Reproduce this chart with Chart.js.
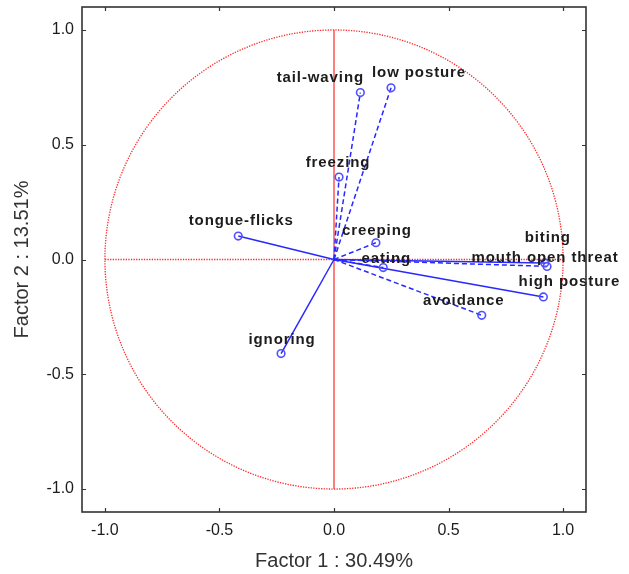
<!DOCTYPE html>
<html>
<head>
<meta charset="utf-8">
<script src="https://cdn.jsdelivr.net/npm/chart.js@4.4.0/dist/chart.umd.min.js"></script>
<style>
  html, body { margin: 0; padding: 0; background: #ffffff; }
  #wrap { width: 629px; height: 574px; }
</style>
</head>
<body>
<div id="wrap"><canvas id="c" width="629" height="574"></canvas></div>
<script>
// Variable loadings on the first two factors
const variables = ['tail-waving', 'low posture', 'freezing', 'tongue-flicks', 'creeping',
                   'eating', 'biting', 'mouth open threat', 'high posture', 'avoidance', 'ignoring'];
const factor1 = [0.115, 0.249, 0.022, -0.418, 0.183, 0.215, 0.920, 0.930, 0.914, 0.645, -0.231];
const factor2 = [0.727, 0.748, 0.359, 0.102, 0.073, -0.035, -0.015, -0.030, -0.163, -0.243, -0.410];

const xTicks = [-1.0, -0.5, 0.0, 0.5, 1.0];
const yTicks = [-1.0, -0.5, 0.0, 0.5, 1.0];
const xTitle = 'Factor 1 : 30.49%';
const yTitle = 'Factor 2 : 13.51%';

// Drawing styles: dash pattern and label placement (pixel offsets) per variable
const style = {
  'tail-waving':       { dashed: true,  dx: -40, dy: -11 },
  'low posture':       { dashed: true,  dx: 28,  dy: -11 },
  'freezing':          { dashed: true,  dx: -1,  dy: -10 },
  'tongue-flicks':     { dashed: false, dx: 3,   dy: -11 },
  'creeping':          { dashed: true,  dx: 1,   dy: -8 },
  'eating':            { dashed: true,  dx: 3,   dy: -5 },
  'biting':            { dashed: false, dx: 3,   dy: -21 },
  'mouth open threat': { dashed: true,  dx: -2,  dy: -4 },
  'high posture':      { dashed: false, dx: 26,  dy: -11 },
  'avoidance':         { dashed: true,  dx: -18, dy: -10 },
  'ignoring':          { dashed: false, dx: 1,   dy: -10 }
};

const BLUE = 'rgb(40,40,255)';
const BLUE_PT = 'rgb(80,80,255)';
const RED = 'rgb(255,40,40)';
const FRAME = '#333333';
const TEXT = '#1c1c1c';

const datasets = variables.map((name, i) => ({
  label: name,
  data: [{ x: 0, y: 0 }, { x: factor1[i], y: factor2[i] }],
  showLine: true,
  borderColor: BLUE,
  borderWidth: 1.5,
  borderDash: style[name].dashed ? [5, 3] : [],
  pointRadius: [0, 3.8],
  pointBorderColor: BLUE_PT,
  pointBackgroundColor: 'rgba(0,0,0,0)',
  pointBorderWidth: 1.6,
  clip: false
}));

// Unit circle and the two axes through the origin, drawn behind the loadings
const unitCircle = {
  id: 'unitCircle',
  beforeDatasetsDraw(chart) {
    const { ctx, scales: { x, y } } = chart;
    const cx = x.getPixelForValue(0), cy = y.getPixelForValue(0);
    const rx = x.getPixelForValue(1) - cx, ry = cy - y.getPixelForValue(1);
    ctx.save();
    ctx.strokeStyle = RED;
    ctx.lineWidth = 1.3;
    ctx.setLineDash([1.3, 1.3]);
    ctx.beginPath();
    ctx.ellipse(cx, cy, rx, ry, 0, 0, Math.PI * 2);
    ctx.stroke();
    // horizontal axis (dotted)
    ctx.beginPath();
    ctx.moveTo(x.getPixelForValue(-1), cy);
    ctx.lineTo(x.getPixelForValue(1), cy);
    ctx.stroke();
    // vertical axis (solid)
    ctx.setLineDash([]);
    ctx.lineWidth = 1.2;
    ctx.beginPath();
    ctx.moveTo(cx, y.getPixelForValue(1));
    ctx.lineTo(cx, y.getPixelForValue(-1));
    ctx.stroke();
    ctx.restore();
  }
};

// Variable names next to their loading points, plus the frame with inward ticks
const labelsAndFrame = {
  id: 'labelsAndFrame',
  afterDatasetsDraw(chart) {
    const { ctx, scales: { x, y } } = chart;
    ctx.save();
    ctx.font = 'bold 15px "Liberation Sans", Arial, sans-serif';
    if ('letterSpacing' in ctx) ctx.letterSpacing = '0.9px';
    ctx.fillStyle = TEXT;
    ctx.textAlign = 'center';
    ctx.textBaseline = 'alphabetic';
    variables.forEach((name, i) => {
      const px = x.getPixelForValue(factor1[i]);
      const py = y.getPixelForValue(factor2[i]);
      ctx.fillText(name, px + style[name].dx, py + style[name].dy);
    });
    ctx.restore();
  },
  afterDraw(chart) {
    const { ctx, chartArea: a, scales: { x, y } } = chart;
    ctx.save();
    ctx.strokeStyle = FRAME;
    ctx.lineWidth = 1.6;
    ctx.strokeRect(a.left, a.top, a.right - a.left, a.bottom - a.top);
    ctx.lineWidth = 1.2;
    const t = 4;
    ctx.beginPath();
    x.ticks.forEach(tk => {
      const p = Math.round(x.getPixelForValue(tk.value)) + 0.5;
      ctx.moveTo(p, a.bottom); ctx.lineTo(p, a.bottom - t);
      ctx.moveTo(p, a.top); ctx.lineTo(p, a.top + t);
    });
    y.ticks.forEach(tk => {
      const p = Math.round(y.getPixelForValue(tk.value)) + 0.5;
      ctx.moveTo(a.left, p); ctx.lineTo(a.left + t, p);
      ctx.moveTo(a.right, p); ctx.lineTo(a.right - t, p);
    });
    ctx.stroke();
    ctx.restore();
  }
};

const tickFont = { family: '"Liberation Sans", Arial, sans-serif', size: 16 };
const titleFont = { family: '"Liberation Sans", Arial, sans-serif', size: 20 };

new Chart(document.getElementById('c'), {
  type: 'scatter',
  data: { datasets },
  options: {
    responsive: false,
    animation: false,
    devicePixelRatio: 1,
    layout: { padding: { top: 7, right: 43, left: 0, bottom: 0 } },
    plugins: { legend: { display: false }, tooltip: { enabled: false } },
    scales: {
      x: {
        type: 'linear', min: -1.1, max: 1.1,
        grid: { display: false, drawTicks: false },
        border: { display: false },
        afterBuildTicks: s => { s.ticks = xTicks.map(v => ({ value: v })); },
        afterFit: s => { s.height = 62; s.paddingLeft = 0; s.paddingRight = 0; },
        ticks: { font: tickFont, color: TEXT, padding: 9, callback: v => v.toFixed(1) },
        title: { display: true, text: xTitle, font: titleFont, color: '#333333', padding: { top: 0, bottom: 1 } }
      },
      y: {
        type: 'linear', min: -1.1, max: 1.1,
        grid: { display: false, drawTicks: false },
        border: { display: false },
        afterBuildTicks: s => { s.ticks = yTicks.map(v => ({ value: v })); },
        afterFit: s => { s.width = 82; s.paddingTop = 0; s.paddingBottom = 0; },
        ticks: { font: tickFont, color: TEXT, padding: 8, callback: v => v.toFixed(1) },
        title: { display: true, text: yTitle, font: titleFont, color: '#333333', padding: { top: 10, bottom: 0 } }
      }
    }
  },
  plugins: [unitCircle, labelsAndFrame]
});
</script>
</body>
</html>
